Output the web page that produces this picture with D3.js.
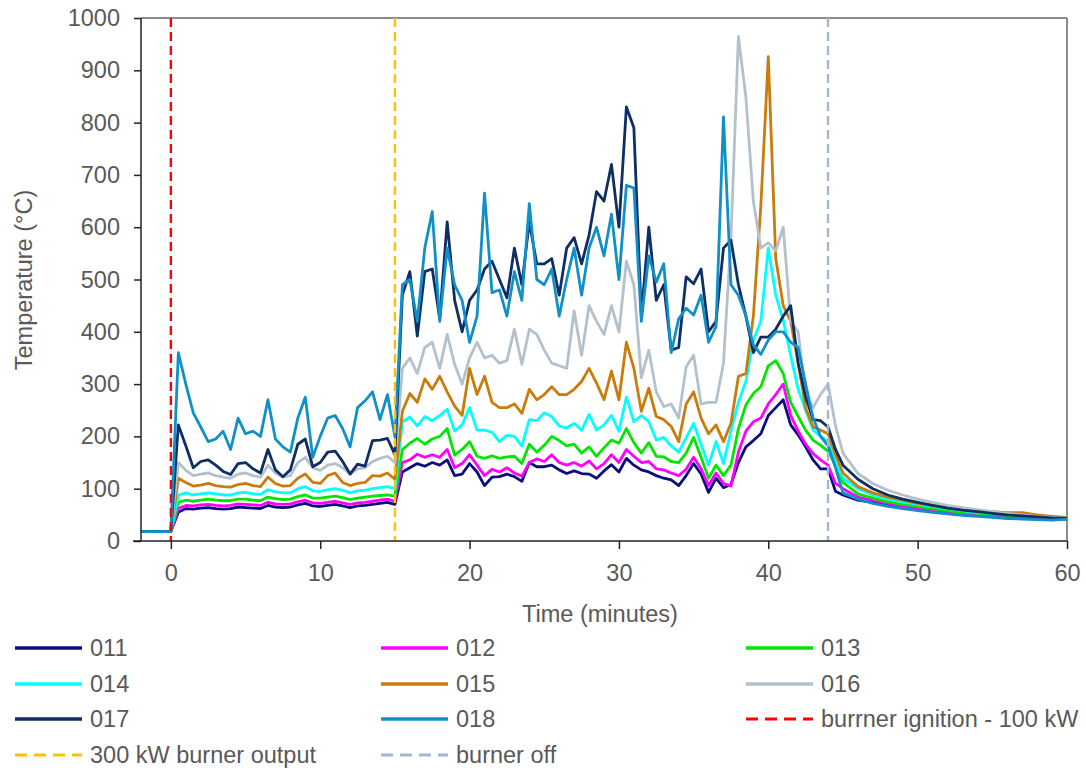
<!DOCTYPE html>
<html><head><meta charset="utf-8">
<script src="https://cdn.jsdelivr.net/npm/d3@7"></script>
<style>
body{margin:0;background:#fff}
svg{display:block}
text{font-family:"Liberation Sans",Arial,sans-serif;fill:#595959}
</style>
</head><body>
<svg id="chart" width="1086" height="770"></svg>
<script>
// ---- data (minutes, °C) ----
const times = [-2, 0, 0.5, 1, 1.5, 2, 2.5, 3, 3.5, 4, 4.5, 5, 5.5, 6, 6.5, 7, 7.5, 8, 8.5, 9, 9.5, 10, 10.5, 11, 11.5, 12, 12.5, 13, 13.5, 14, 14.5, 15, 15.5, 16, 16.5, 17, 17.5, 18, 18.5, 19, 19.5, 20, 20.5, 21, 21.5, 22, 22.5, 23, 23.5, 24, 24.5, 25, 25.5, 26, 26.5, 27, 27.5, 28, 28.5, 29, 29.5, 30, 30.5, 31, 31.5, 32, 32.5, 33, 33.5, 34, 34.5, 35, 35.5, 36, 36.5, 37, 37.5, 38, 38.5, 39, 39.5, 40, 40.5, 41, 41.5, 42, 42.5, 43, 43.5, 44, 44.5, 45, 46, 47, 48, 49, 50, 51, 52, 53, 54, 55, 56, 57, 58, 59, 60];

const s011 = [18,18,
55,62,61,63,64,62,61,62,65,64, 63,62,68,65,64,65,69,72,67,66, 68,70,67,64,67,68,70,72,74,70,
132,140,148,143,150,145,155,125,128,148, 132,106,122,123,128,123,114,150,142,142, 145,136,129,134,129,128,120,134,146,132,
158,145,136,132,125,120,117,106,125,148, 128,93,120,102,108,150,180,192,205,240, 255,270,222,203,180,155,138,138,95,88,
78,74,69,64,60,57,54,51,49,47,45,44,43,42,42];

const s012 = [18,18,
62,68,67,69,70,68,67,68,71,70, 69,68,74,71,70,71,75,78,73,72, 74,76,73,70,73,74,76,78,80,76,
150,155,166,160,165,160,175,140,148,165, 145,125,137,132,140,130,124,150,157,152, 165,150,145,150,143,153,138,148,165,150,
175,162,150,152,138,136,130,125,137,160, 138,106,130,110,105,170,210,228,235,262, 280,300,240,210,185,167,155,145,110,100,
84,78,72,66,62,58,55,52,50,48,46,45,44,43,42];

const s013 = [18,18,
74,78,76,78,80,78,77,77,80,80, 78,77,84,81,79,80,85,88,82,82, 84,86,83,79,82,84,86,87,88,86,
175,187,196,185,195,200,215,164,175,190, 162,158,163,158,161,162,148,185,170,183, 200,192,182,185,168,180,162,178,193,187,
215,188,168,188,162,161,152,150,168,198, 160,120,145,125,145,215,260,282,295,335, 345,320,265,238,212,193,183,172,145,112,
90,82,75,70,66,62,58,55,53,51,49,48,46,45,44];

const s014 = [18,18,
88,92,88,90,92,90,88,88,92,93, 90,89,98,94,92,92,100,104,96,95, 98,100,97,92,96,97,100,102,104,100,
228,237,220,238,230,240,252,210,222,255, 212,212,208,190,202,200,182,232,230,245, 238,220,216,225,212,242,212,222,240,210,
275,228,240,228,193,198,182,170,197,225, 185,145,190,148,210,265,305,384,420,560, 470,422,355,290,250,212,200,190,150,120,
100,88,80,75,70,66,62,58,55,53,52,50,48,47,45];

const s015 = [18,18,
120,112,105,107,110,106,104,103,108,110, 106,104,122,110,105,106,120,128,112,110, 125,130,112,106,110,112,125,124,130,118,
248,282,265,310,290,315,285,258,240,330, 280,315,265,255,255,262,244,290,270,280, 295,280,280,290,305,330,302,270,325,270,
380,330,248,292,238,232,219,190,262,285, 235,205,222,190,225,315,320,430,640,926, 540,450,420,340,255,218,212,205,165,130,
104,92,84,78,72,68,64,60,58,56,54,54,50,47,44];

const s016 = [18,18,
150,135,125,128,130,125,122,120,128,130, 125,122,145,130,122,125,150,160,140,135, 145,148,140,128,138,140,152,158,162,150,
330,350,320,370,380,330,395,338,300,350, 380,350,355,340,345,405,338,405,395,365, 340,335,330,440,355,450,420,395,450,400,
535,490,312,365,285,257,262,235,333,355, 262,265,265,340,580,965,848,650,560,570, 555,600,420,400,280,255,280,300,220,168,
129,110,97,88,80,74,68,64,60,56,53,50,47,45,43];

const s017 = [18,18,
222,182,140,152,155,145,133,127,148,150, 138,130,175,136,123,136,185,195,142,150, 170,172,152,128,147,143,192,193,196,165,
470,515,392,515,520,425,610,460,400,460, 480,520,535,500,465,560,490,610,530,530, 540,470,560,580,530,585,668,650,720,600,
830,790,430,600,460,490,365,370,505,492, 520,400,420,560,575,490,430,360,390,390, 405,430,450,340,275,232,230,218,175,145,
118,100,88,80,74,68,63,59,56,53,50,48,46,44,43];

const s018 = [18,18,
360,300,245,218,190,195,210,175,235,205, 210,200,270,195,180,170,235,275,160,200, 235,240,215,180,255,268,285,232,280,200,
490,500,420,560,630,420,560,490,460,380, 430,665,475,480,430,515,460,645,500,490, 520,430,500,560,470,560,600,545,625,500,
680,675,420,545,495,530,360,425,445,432, 470,380,410,811,490,470,430,375,357,384, 400,400,380,370,300,235,200,182,140,92,
80,72,66,62,58,55,52,49,47,45,43,42,41,40,42];

const seriesNames  = ["011","012","013","014","015","016","017","018"];
const seriesValues = [s011,s012,s013,s014,s015,s016,s017,s018];
const seriesColors = ["#0c0c7e","#ff00ff","#00e600","#00ffff","#c97c0b","#b3c1cd","#0e2e64","#1190c8"];

const markerTimes  = [0, 15, 44];
const markerLabels = ["burrner ignition - 100 kW","300 kW burner output","burner off"];
const markerColors = ["#ff0000","#ffc000","#a5b5d2"];

const xTicks = [0,10,20,30,40,50,60];
const yTicks = [0,100,200,300,400,500,600,700,800,900,1000];

// ---- layout ----
const FS = "23.5px";
const svg = d3.select("#chart");
const L = 141, R = 1067, T = 18, B = 541;
const x = d3.scaleLinear().domain([-2, 60]).range([L, R]);
const y = d3.scaleLinear().domain([0, 1000]).range([B, T]);

// frame (top/right light border)
svg.append("line").attr("x1",L).attr("x2",R).attr("y1",T).attr("y2",T)
  .attr("stroke","#8c8c8c").attr("stroke-width",2);
svg.append("line").attr("x1",R).attr("x2",R).attr("y1",T).attr("y2",B)
  .attr("stroke","#8c8c8c").attr("stroke-width",2);

// series
const line = d3.line().x((d,i)=>x(times[i])).y(d=>y(d));
const gS = svg.append("g");
seriesValues.forEach((vals,k)=>{
  gS.append("path").datum(vals).attr("d",line)
    .attr("fill","none").attr("stroke",seriesColors[k])
    .attr("stroke-width",2.8).attr("stroke-linejoin","round");
});

// marker lines
markerTimes.forEach((t,k)=>{
  svg.append("line").attr("x1",x(t)).attr("x2",x(t)).attr("y1",T).attr("y2",B)
    .attr("stroke",markerColors[k]).attr("stroke-width",2.4)
    .attr("stroke-dasharray","9,5");
});

// axes
const yAxis = svg.append("g").attr("transform",`translate(${L},0)`)
  .call(d3.axisLeft(y).tickValues(yTicks).tickFormat(d3.format("d"))
    .tickSize(7).tickSizeOuter(0).tickPadding(14));
const xAxis = svg.append("g").attr("transform",`translate(0,${B})`)
  .call(d3.axisBottom(x).tickValues(xTicks).tickSize(8).tickSizeOuter(0).tickPadding(15));
[yAxis,xAxis].forEach(g=>{
  g.select(".domain").remove();
  g.selectAll(".tick line").attr("stroke","#222").attr("stroke-width",1.5);
  g.selectAll(".tick text").style("font-size",FS).attr("fill","#595959");
});
svg.append("line").attr("x1",L).attr("x2",L).attr("y1",T).attr("y2",B)
  .attr("stroke","#222").attr("stroke-width",1.5);
svg.append("line").attr("x1",L-8).attr("x2",R).attr("y1",B).attr("y2",B)
  .attr("stroke","#222").attr("stroke-width",1.5);

// axis titles
svg.append("text").attr("x",600).attr("y",614).attr("text-anchor","middle")
  .attr("dominant-baseline","central").style("font-size",FS).text("Time (minutes)");
svg.append("text").attr("transform","translate(24,280) rotate(-90)")
  .attr("text-anchor","middle").attr("dominant-baseline","central")
  .style("font-size",FS).text("Temperature (°C)");

// legend
const legendItems = seriesNames.map((n,k)=>({label:n,color:seriesColors[k],dash:null}))
  .concat(markerLabels.map((n,k)=>({label:n,color:markerColors[k],dash:"12,7"})));
const colX = [15, 381, 746];
const rowY = [648, 684, 719, 755];
legendItems.forEach((it,i)=>{
  const cx = colX[i%3], cy = rowY[Math.floor(i/3)];
  const g = svg.append("g");
  g.append("line").attr("x1",cx).attr("x2",cx+67).attr("y1",cy).attr("y2",cy)
    .attr("stroke",it.color).attr("stroke-width",it.dash?3:3.5)
    .attr("stroke-dasharray",it.dash);
  g.append("text").attr("x",cx+75).attr("y",cy).attr("dominant-baseline","central")
    .style("font-size",FS).text(it.label);
});
</script>
</body></html>
